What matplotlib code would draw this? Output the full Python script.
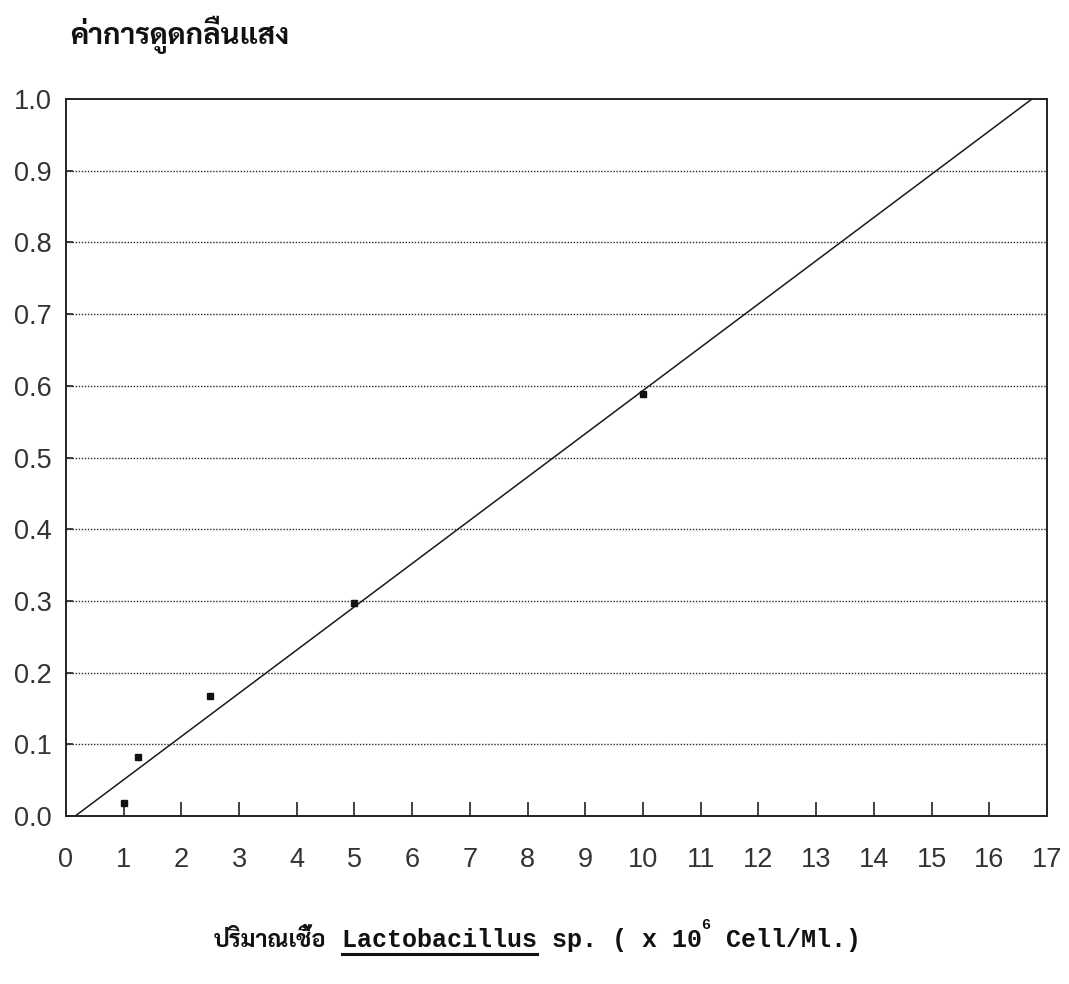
import matplotlib
matplotlib.use('Agg')
import numpy as np
import matplotlib.pyplot as plt
from matplotlib.lines import Line2D

# data
cells = [1.0, 1.25, 2.5, 5.0, 10.0]
absorb = [0.018, 0.083, 0.167, 0.297, 0.588]
fit_x = [0.16, 16.74]
fit_y = [0.0, 1.0]

xticks = list(range(0, 18))
yticks = [round(0.1 * i, 1) for i in range(11)]

thai = ['Sarabun', 'Anuphan', 'DejaVu Sans']
mono = ['Liberation Mono', 'Sarabun', 'Anuphan']
tickfont = ['Liberation Sans', 'DejaVu Sans']

fig = plt.figure(figsize=(10.69, 9.84), dpi=100)
ax = fig.add_axes([0.0617, 0.1707, 0.9177, 0.7287])

ax.plot(fit_x, fit_y, color='#1a1a1a', lw=1.1)
ax.plot(cells, absorb, 's', color='#111111', ms=5)

ax.set_xlim(0, 17)
ax.set_ylim(0, 1.0)
ax.set_xticks(xticks)
ax.set_yticks(yticks)
ax.set_xticklabels([str(t) for t in xticks], family=tickfont,
                   fontsize=19.5, color='#333333')
ax.set_yticklabels(['%.1f' % t for t in yticks], family=tickfont,
                   fontsize=19.5, color='#333333')
ax.tick_params(axis='x', direction='in', length=10, width=1.2, pad=22, color='#222222')
ax.tick_params(axis='y', direction='in', length=5, width=1.2, pad=10, color='#222222')
# no tick marks on the frame corners
for t in (ax.xaxis.get_major_ticks()[0], ax.xaxis.get_major_ticks()[-1]):
    t.tick1line.set_visible(False)

for y in yticks[1:-1]:
    ax.axhline(y, color='#2a2a2a', lw=1.0, ls=(0, (1, 1.2)))

for s in ax.spines.values():
    s.set_linewidth(1.4)
    s.set_color('#222222')

fig.text(0.066, 0.955, 'ค่าการดูดกลืนแสง', family=thai, fontweight='bold',
         fontsize=21, color='#111111', va='baseline')

# x axis label built from pieces so the genus can be underlined
fig.canvas.draw()
r = fig.canvas.get_renderer()
x0 = 214 / 1069
yb = (984 - 947) / 984
pieces = [
    ('ปริมาณเชื้อ', thai, 17, 0, False),
    (' Lactobacillus', mono, 18, 0, True),
    (' sp. ( x 10', mono, 18, 0, False),
    ('6', mono, 11, 0.018, False),
    (' Cell/Ml.)', mono, 18, 0, False),
]
x = x0
for txt, fam, size, dy, under in pieces:
    t = fig.text(x, yb + dy, txt, family=fam, fontweight='bold', fontsize=size,
                 color='#111111', va='baseline', ha='left')
    bb = t.get_window_extent(r).transformed(fig.transFigure.inverted())
    if under:
        # skip the leading space
        ux0 = bb.x0 + (bb.x1 - bb.x0) / len(txt)
        uy = yb - 0.007
        fig.add_artist(Line2D([ux0, bb.x1], [uy, uy], color='#111111', lw=2.2,
                              transform=fig.transFigure))
    x = bb.x1

fig.savefig('out.png', dpi=100)
